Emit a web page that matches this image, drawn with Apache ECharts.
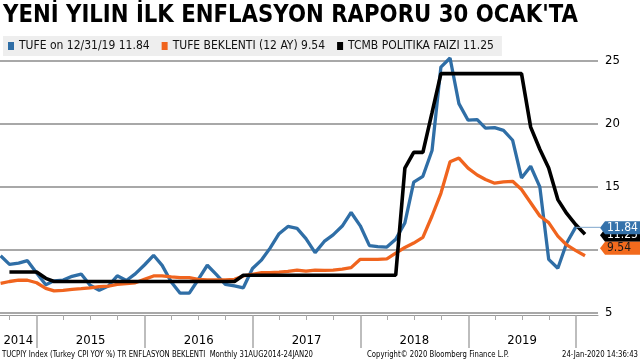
<!DOCTYPE html>
<html><head><meta charset="utf-8">
<script src="https://cdn.jsdelivr.net/npm/echarts@6/dist/echarts.min.js"></script>
<style>html,body{margin:0;padding:0;background:#fff}#c{width:640px;height:360px}</style>
</head><body><div id="c"></div><script>
// Monthly data, month-end, from Aug 2014 to Jan 2020
const firstYear = 2014, firstMonth = 8; // August 2014
const cpi = [9.54,8.86,8.96,9.15,8.17,
  7.24,7.55,7.61,7.91,8.09,7.20,6.81,7.14,7.95,7.58,8.10,8.81,
  9.58,8.78,7.46,6.57,6.58,7.64,8.79,8.05,7.28,7.16,7.00,8.53,
  9.22,10.13,11.29,11.87,11.72,10.90,9.79,10.68,11.20,11.90,12.98,11.92,
  10.35,10.26,10.23,10.85,12.15,15.39,15.85,17.90,24.52,25.24,21.62,20.30,
  20.35,19.67,19.71,19.50,18.71,15.72,16.65,15.01,9.26,8.55,10.56,11.84,
  null];
const expectation = [7.36,7.5,7.6,7.6,7.4,
  6.95,6.75,6.8,6.88,6.93,7.0,7.1,7.14,7.27,7.33,7.4,7.67,
  7.94,7.94,7.86,7.8,7.8,7.67,7.62,7.62,7.62,7.67,7.94,8.07,
  8.2,8.2,8.25,8.3,8.41,8.33,8.41,8.38,8.41,8.48,8.6,9.26,
  9.26,9.26,9.3,9.75,10.2,10.55,11.0,12.7,14.5,17.0,17.3,16.5,
  15.95,15.6,15.3,15.4,15.45,14.8,13.75,12.7,12.17,11.1,10.4,9.95,
  9.54];
const policyRate = [null,8.25,8.25,8.25,8.25,
  7.75,7.5,7.5,7.5,7.5,7.5,7.5,7.5,7.5,7.5,7.5,7.5,
  7.5,7.5,7.5,7.5,7.5,7.5,7.5,7.5,7.5,7.5,8.0,8.0,
  8.0,8.0,8.0,8.0,8.0,8.0,8.0,8.0,8.0,8.0,8.0,8.0,
  8.0,8.0,8.0,8.0,16.5,17.75,17.75,20.9,24,24,24,24,
  24,24,24,24,24,24,19.75,18.0,16.5,14.0,12.9,12.0,
  11.25];
const seriesNames = ['TUFE on 12/31/19 11.84','TUFE BEKLENTI (12 AY) 9.54','TCMB POLITIKA FAIZI 11.25'];
const tagTexts = ['11.84','9.54','11.25'];
const yearLabels = ['2014','2015','2016','2017','2018','2019'];
const yMin = 5, yMax = 25, yStep = 5;

const colors = ['#2f6ea6','#f0641e','#000000'];
const tagColors = ['#3572ab','#f26a1d','#000000'];
const tagTextColors = ['#ffffff','#1a1a1a','#ffffff'];

function monthEnd(i){ const k = firstMonth - 1 + i; return new Date(firstYear + Math.floor(k/12), (k%12)+1, 0).getTime(); }
const months = cpi.map((_, i) => monthEnd(i));
const pairs = arr => months.map((t, i) => [t, arr[i]]);

const xMin = new Date(2014,7,29).getTime(), xMax = new Date(2020,2,15).getTime();
const yearTicks = [], quarterTicks = [];
for (let y = 2015; y <= 2020; y++) yearTicks.push(new Date(y,0,1).getTime());
for (let y = 2014; y <= 2019; y++) [3,6,9].forEach(m => { const t = new Date(y,m,1).getTime(); if (t > xMin) quarterTicks.push(t); });
const labelDates = yearLabels.map((l, i) => i === 0 ? new Date(2014,9,30).getTime() : new Date(+l,6,2).getTime());

const FF = '"DejaVu Sans Condensed", "DejaVu Sans", sans-serif';
const ctx = document.createElement('canvas').getContext('2d');
function fitText(text, font, x, y, targetW, sy){
  ctx.font = font; const w = ctx.measureText(text).width;
  return {type:'text', x:x, y:y, scaleX: targetW / w, scaleY: sy, z: 100,
    style:{text:text, font:font, fill:'#000', textAlign:'left', textVerticalAlign:'middle'}};
}

const chart = echarts.init(document.getElementById('c'));
const lines = [cpi, expectation, policyRate].map((arr, i) => ({
  name: seriesNames[i], type:'line', data: pairs(arr), showSymbol:false, clip:false,
  lineStyle:{width: i === 2 ? 3.6 : 3.3, color:colors[i]}, itemStyle:{color:colors[i]}, z: 2 + i
}));

chart.setOption({
  animation:false,
  backgroundColor:'#ffffff',
  color: colors,
  grid:{left:0, right:42, top:61, bottom:47, containLabel:false},
  legend:{left:3, top:36, padding:[4,8,4,5], backgroundColor:'#eeeeee', itemWidth:6, itemHeight:8,
    itemGap:12, icon:'rect', data: seriesNames,
    textStyle:{fontSize:12, fontFamily:FF, color:'#111'}},
  xAxis:[{
    type:'value', min:xMin, max:xMax, position:'bottom', offset:2,
    axisLine:{show:true, lineStyle:{color:'#9a9a9a', width:1}},
    axisTick:{show:true, customValues: yearTicks, length:33, lineStyle:{color:'#a8a8a8', width:1.5}},
    axisLabel:{show:true, customValues: labelDates, margin:19, fontSize:13, fontFamily:FF, color:'#000',
      formatter: v => { const k = labelDates.indexOf(v); return k >= 0 ? yearLabels[k] : ''; }},
    splitLine:{show:false}
  },{
    type:'value', min:xMin, max:xMax, position:'bottom', offset:2,
    axisLine:{show:false},
    axisTick:{show:true, customValues: quarterTicks, length:5, lineStyle:{color:'#a8a8a8', width:1}},
    axisLabel:{show:false}, splitLine:{show:false}
  }],
  yAxis:{type:'value', position:'right', min:yMin, max:yMax, interval:yStep,
    axisLine:{show:false}, axisTick:{show:false},
    splitLine:{show:true, lineStyle:{color:'#a8a8a8', width:2}},
    axisLabel:{margin:7, fontSize:13, fontFamily:FF, color:'#000'}},
  series: lines
});

// value tags on the right, placed through the axis scales
const lastVals = [cpi, expectation, policyRate].map(a => { for (let i = a.length-1; i >= 0; i--) if (a[i] != null) return [months[i], a[i]]; });
const shifts = [1, -7.5, 1];
const order = [2, 0, 1]; // drawing order: black tag under blue tag
const els = [
  fitText("YENİ YILIN İLK ENFLASYON RAPORU 30 OCAK'TA", 'bold 21px "DejaVu Sans"', 3, 16, 575, 1.15),
  fitText('TUCPIY Index (Turkey CPI YOY %) TR ENFLASYON BEKLENTI  Monthly 31AUG2014-24JAN20', '8px "DejaVu Sans"', 2, 355, 311, 1.15),
  fitText('Copyright© 2020 Bloomberg Finance L.P.', '8px "DejaVu Sans"', 367, 355, 142, 1.15),
  fitText('24-Jan-2020 14:36:43', '8px "DejaVu Sans"', 562, 355, 76, 1.15)
];
const bluePt = chart.convertToPixel({xAxisIndex:0, yAxisIndex:0}, lastVals[0]);
els.push({type:'line', z:90, shape:{x1:bluePt[0], y1:bluePt[1]+0.5, x2:600, y2:bluePt[1]+0.5}, style:{stroke:'#7fa6cc', lineWidth:1}});
order.forEach((i, k) => {
  const yc = chart.convertToPixel({yAxisIndex:0}, lastVals[i][1]) + shifts[i];
  els.push({type:'polygon', z:110 + 2*k, shape:{points:[[600,yc],[605,yc-6.5],[641,yc-6.5],[641,yc+6.5],[605,yc+6.5]]},
    style:{fill:tagColors[i]}});
  els.push({type:'text', z:111 + 2*k, x:607, y:yc, style:{text:tagTexts[i], font:'12px ' + FF, fill:tagTextColors[i], textAlign:'left', textVerticalAlign:'middle'}});
});
chart.setOption({graphic: els});
</script></body></html>
